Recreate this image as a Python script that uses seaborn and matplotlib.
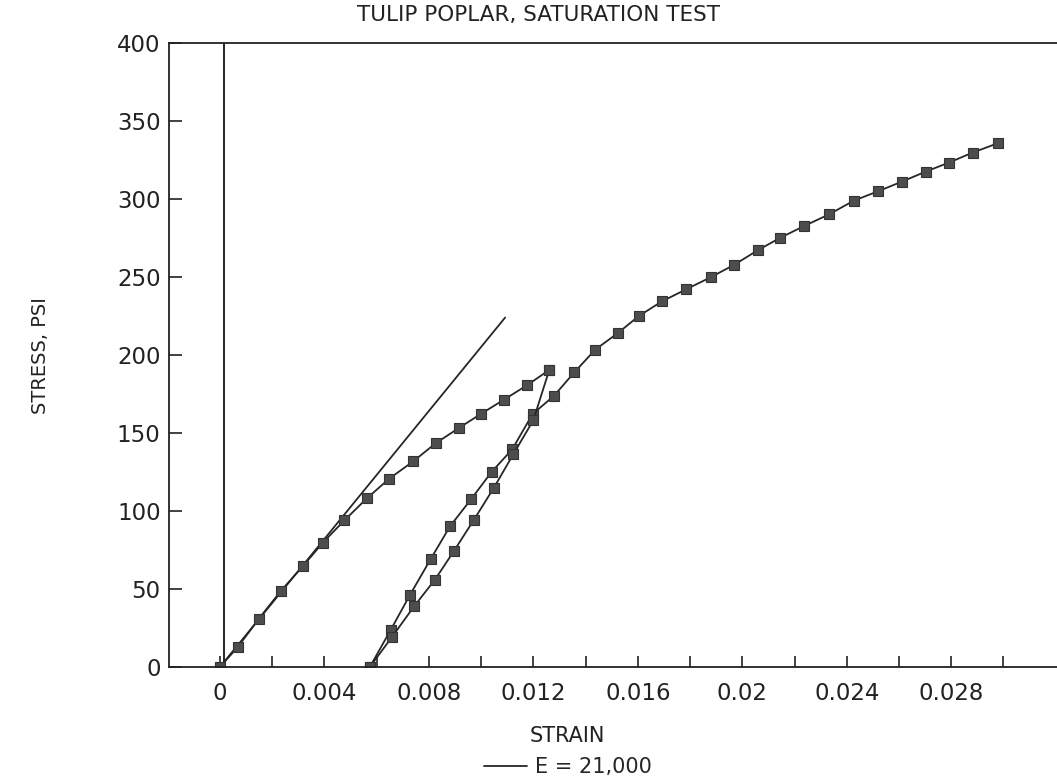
import matplotlib
matplotlib.use("Agg")
import matplotlib.pyplot as plt
import numpy as np
import pandas as pd
import seaborn as sns

# values
loading_strain = [0.0, 0.00069, 0.00149, 0.00234, 0.00317, 0.00393, 0.00476,
                  0.00562, 0.00648, 0.00740, 0.00826, 0.00915, 0.00998,
                  0.01087, 0.01175, 0.01261]
loading_stress = [0.0, 12.9, 30.9, 48.9, 64.5, 79.5, 93.9, 108.0, 120.7,
                  131.8, 143.4, 153.2, 162.1, 171.3, 180.5, 190.4]

unloading_strain = [0.01261, 0.01200, 0.01123, 0.01049, 0.00973, 0.00897,
                    0.00823, 0.00743, 0.00660, 0.00574]
unloading_stress = [190.4, 158.2, 136.3, 114.9, 94.5, 74.6, 55.9, 38.8,
                    19.5, 0.0]

reloading_strain = [0.00574, 0.00654, 0.00728, 0.00808, 0.00881, 0.00961,
                    0.01040, 0.01119, 0.01197, 0.01279, 0.01357, 0.01437,
                    0.01524, 0.01605, 0.01692, 0.01784, 0.01879, 0.01970,
                    0.02059, 0.02144, 0.02235, 0.02333, 0.02427, 0.02521,
                    0.02611, 0.02702, 0.02791, 0.02882, 0.02978]
reloading_stress = [0.0, 23.8, 46.3, 69.5, 90.2, 107.4, 125.0, 139.5, 162.1,
                    173.8, 188.9, 203.4, 214.1, 225.1, 234.3, 242.0, 249.8,
                    257.9, 267.1, 275.0, 282.5, 290.2, 298.9, 305.0, 311.1,
                    317.5, 323.3, 329.7, 335.7]

# modulus line E = 21,000 psi
e_strain = [0.0, 0.01092]
e_stress = [0.0, 224.0]

x_ticks = [0, 0.004, 0.008, 0.012, 0.016, 0.02, 0.024, 0.028]
x_tick_labels = ["0", "0.004", "0.008", "0.012", "0.016", "0.02", "0.024", "0.028"]
x_minor = [0.002, 0.006, 0.010, 0.014, 0.018, 0.022, 0.026, 0.030]
y_ticks = [0, 50, 100, 150, 200, 250, 300, 350, 400]

df = pd.concat([
    pd.DataFrame({"strain": loading_strain, "stress": loading_stress, "branch": "load"}),
    pd.DataFrame({"strain": unloading_strain, "stress": unloading_stress, "branch": "unload"}),
    pd.DataFrame({"strain": reloading_strain, "stress": reloading_stress, "branch": "reload"}),
], ignore_index=True)

sns.set_theme(style="ticks")
plt.rcParams["font.family"] = ["DejaVu Sans"]

fig = plt.figure(figsize=(10.57, 7.81), dpi=100)
ax = fig.add_axes([0.1599, 0.146, 0.8401, 0.799])

line_col = "#262626"

ax.axvline(0.00015, color=line_col, lw=1.4, zorder=1)

sns.lineplot(x=e_strain, y=e_stress, color=line_col, lw=1.3,
             label="E = 21,000", ax=ax)

sns.lineplot(data=df, x="strain", y="stress", units="branch", estimator=None,
             sort=False, color=line_col, lw=1.3, marker="s", markersize=7.5,
             markerfacecolor="#4d4d4d", markeredgecolor="#333333",
             markeredgewidth=0.8, legend=False, ax=ax)

ax.set_xlim(-0.00195, 0.03205)
ax.set_ylim(0, 400)

ax.set_xticks(x_ticks)
ax.set_xticklabels(x_tick_labels)
ax.set_xticks(x_minor, minor=True)
ax.set_yticks(y_ticks)

ax.tick_params(axis="x", which="both", direction="in", length=8, width=1.2,
               pad=11, labelsize=16.5, colors="#222222")
ax.tick_params(axis="y", direction="in", length=9, width=1.2, pad=6,
               labelsize=16.5, colors="#222222")

for side in ["left", "bottom", "top"]:
    ax.spines[side].set_linewidth(1.3)
    ax.spines[side].set_color("#222222")
ax.spines["right"].set_visible(False)

ax.set_xlabel("")
ax.set_ylabel("")

fig.text(0.509, 0.981, "TULIP POPLAR, SATURATION TEST", ha="center",
         va="center", fontsize=15.5, color="#222222")
fig.text(0.038, 0.545, "STRESS, PSI", rotation=90, ha="center", va="center",
         fontsize=14, color="#222222")
fig.text(0.537, 0.057, "STRAIN", ha="center", va="center", fontsize=15,
         color="#222222")

ax.legend(loc="center", bbox_to_anchor=(0.537, 0.018),
          bbox_transform=fig.transFigure, frameon=False, fontsize=15,
          handlelength=2.1, handletextpad=0.35, borderpad=0)

fig.savefig("out.png", dpi=100)
